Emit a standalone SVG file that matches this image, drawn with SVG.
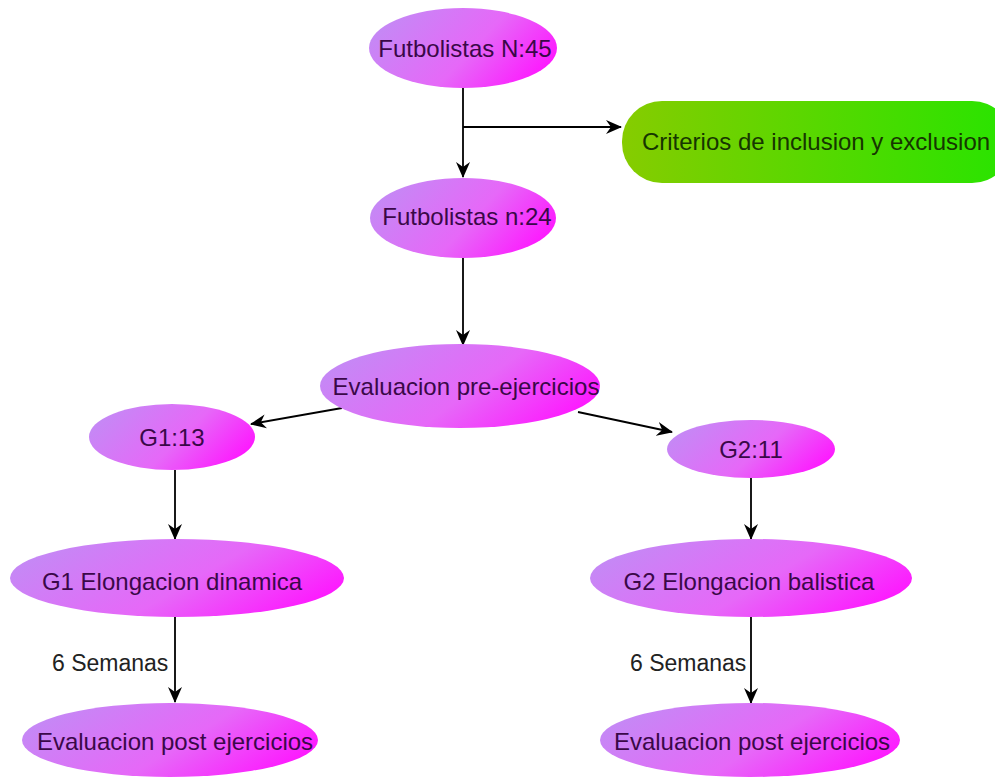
<svg xmlns="http://www.w3.org/2000/svg" width="995" height="778" viewBox="0 0 995 778">
<defs>
<linearGradient id="pg" x1="0" y1="0.3" x2="1" y2="0.7">
<stop offset="0" stop-color="#c38af5"/>
<stop offset="0.55" stop-color="#e668f8"/>
<stop offset="1" stop-color="#ff14ff"/>
</linearGradient>
<linearGradient id="gg" x1="0" y1="0" x2="1" y2="0">
<stop offset="0" stop-color="#86cc00"/>
<stop offset="1" stop-color="#28e400"/>
</linearGradient>
<marker id="ah" viewBox="0 0 16 16" refX="15" refY="8" markerWidth="16" markerHeight="16" markerUnits="userSpaceOnUse" orient="auto">
<path d="M0,1 L16,8 L0,15 L5,8 Z" fill="#000"/>
</marker>
<style>
.pn{fill:url(#pg);}
.t{font-family:"Liberation Sans",Arial,sans-serif;font-size:24px;fill:#3a0848;text-anchor:middle;}
.gt{fill:#163600;}
.lbl{font-family:"Liberation Sans",Arial,sans-serif;font-size:23px;fill:#222;}
.c{stroke:#000;stroke-width:1.8;fill:none;marker-end:url(#ah);}
</style>
</defs>
<rect width="995" height="778" fill="#fff"/>
<g id="connectors">
<path class="c" d="M463,88 L463,177"/>
<path class="c" d="M463,127 L621,127"/>
<path class="c" d="M463,258 L463,345"/>
<path class="c" d="M342,408 L251,424"/>
<path class="c" d="M578,412 L672,432"/>
<path class="c" d="M175,470 L175,539"/>
<path class="c" d="M751,478 L751,539"/>
<path class="c" d="M175,617 L175,702"/>
<path class="c" d="M751,617 L751,703"/>
<text class="lbl" x="52" y="671">6 Semanas</text>
<text class="lbl" x="630" y="671">6 Semanas</text>
</g>
<g id="n1"><ellipse class="pn" cx="463" cy="48" rx="94" ry="40"/><text class="t" x="465" y="57">Futbolistas N:45</text></g>
<g id="n_criterios"><rect x="622" y="101" width="390" height="82" rx="40" fill="url(#gg)"/><text class="t gt" x="816" y="150">Criterios de inclusion y exclusion</text></g>
<g id="n2"><ellipse class="pn" cx="463" cy="218" rx="93" ry="40"/><text class="t" x="467" y="225">Futbolistas n:24</text></g>
<g id="n3"><ellipse class="pn" cx="460" cy="386" rx="140" ry="42"/><text class="t" x="466" y="395">Evaluacion pre-ejercicios</text></g>
<g id="g1"><ellipse class="pn" cx="172" cy="437" rx="83" ry="33"/><text class="t" x="172" y="446">G1:13</text></g>
<g id="g2"><ellipse class="pn" cx="751" cy="449" rx="84" ry="29"/><text class="t" x="751" y="458">G2:11</text></g>
<g id="g1e"><ellipse class="pn" cx="177" cy="578" rx="167" ry="39"/><text class="t" x="172" y="590">G1 Elongacion dinamica</text></g>
<g id="g2e"><ellipse class="pn" cx="751" cy="578" rx="161" ry="39"/><text class="t" x="749" y="590">G2 Elongacion balistica</text></g>
<g id="e1"><ellipse class="pn" cx="170" cy="740" rx="148" ry="37"/><text class="t" x="175" y="750">Evaluacion post ejercicios</text></g>
<g id="e2"><ellipse class="pn" cx="750" cy="740" rx="150" ry="37"/><text class="t" x="752" y="750">Evaluacion post ejercicios</text></g>
</svg>
